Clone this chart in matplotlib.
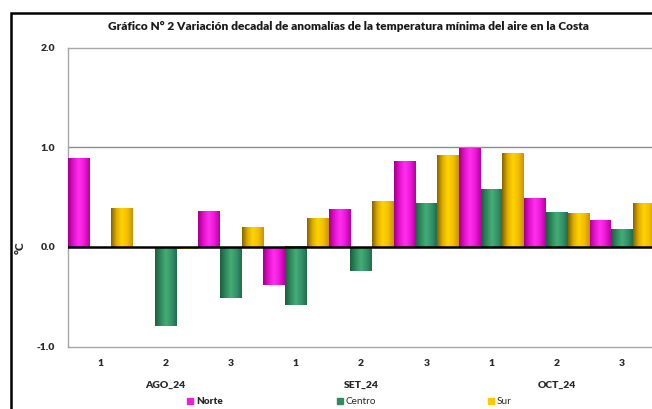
import numpy as np
import matplotlib
matplotlib.use("Agg")
import matplotlib.pyplot as plt
from matplotlib.colors import LinearSegmentedColormap
from matplotlib.lines import Line2D
from matplotlib.patches import Rectangle

# ---- data ----
title = "Gráfico N° 2 Variación decadal de anomalías de la temperatura mínima del aire en la Costa"
dekads = ["1", "2", "3", "1", "2", "3", "1", "2", "3"]
months = ["AGO_24", "SET_24", "OCT_24"]
series_names = ["Norte", "Centro", "Sur"]
norte = [0.89, 0.0, 0.36, -0.38, 0.38, 0.86, 0.99, 0.49, 0.27]
centro = [0.0, -0.79, -0.51, -0.585, -0.24, 0.435, 0.575, 0.35, 0.175]
sur = [0.39, -0.02, 0.20, 0.29, 0.46, 0.92, 0.94, 0.34, 0.435]
yticks = [-1.0, 0.0, 1.0, 2.0]

colors = ["#F21CDC", "#2E8B5E", "#FFC800"]
grads = [
    ["#9E0088", "#E512CF", "#FF30EC", "#EE18D8", "#B8009F"],
    ["#1B5E3E", "#2F8A5C", "#43AD77", "#35936A", "#236E4C"],
    ["#846400", "#E0AE00", "#FFD400", "#F4BE00", "#C89400"],
]

W, H = 652, 409
fig = plt.figure(figsize=(W / 100, H / 100), dpi=100)
fig.patch.set_facecolor("white")

FONT = "Lato"
tc = "#2A2A2A"

# outer frame (cropped chart area)
fig.patches.append(Rectangle((11 / W, -0.05), 2.0, 1 - 13 / H + 0.05,
                             transform=fig.transFigure, fill=False,
                             edgecolor="black", linewidth=1.8, zorder=0))

x0, x1 = 67.8, 654.5
ytop, ybot = 47.5, 346.5
ax = fig.add_axes([x0 / W, (H - ybot) / H, (x1 - x0) / W, (ybot - ytop) / H])
ax.set_facecolor("none")

n = len(dekads)
x = np.arange(n)
bw = 1 / 3
data = [norte, centro, sur]
for k, (vals, col, g) in enumerate(zip(data, colors, grads)):
    bars = ax.bar(x + (k - 1) * bw, vals, width=bw, color=col, zorder=2,
                  label=series_names[k], linewidth=0)
    cmap = LinearSegmentedColormap.from_list(f"g{k}", g)
    grad = np.linspace(0, 1, 64).reshape(1, -1)
    for b in bars:
        bx, by = b.get_x(), b.get_y()
        bwid, bh = b.get_width(), b.get_height()
        if bh == 0:
            continue
        ax.imshow(grad, extent=[bx, bx + bwid, by, by + bh], cmap=cmap,
                  aspect="auto", zorder=3, interpolation="bilinear")

ax.set_xlim(-0.5, n - 0.5)
ax.set_ylim(-1.0, 2.0)

# grid and zero line
ax.axhline(1.0, color="#8C8C8C", lw=1.0, zorder=1)
ax.axhline(0.0, color="black", lw=1.8, zorder=4)

for s in ["left", "top", "bottom"]:
    ax.spines[s].set_color("#A6A6A6")
    ax.spines[s].set_linewidth(1.0)
ax.spines["right"].set_visible(False)

ax.set_yticks(yticks)
ax.set_yticklabels([f"{v:.1f}" for v in yticks], fontsize=7.5, fontweight="heavy",
                   color=tc, family=FONT)
ax.tick_params(axis="y", length=0, pad=9)
ax.set_xticks(x)
ax.set_xticklabels(dekads, fontsize=7.5, fontweight="heavy", color=tc, family=FONT)
ax.tick_params(axis="x", length=0, pad=9)

for i, m in enumerate(months):
    ax.text(3 * i + 1, -(385 - ybot) / (ybot - ytop), m, transform=ax.get_xaxis_transform(),
            ha="center", va="center", fontsize=7.5, fontweight="heavy", color=tc, family=FONT)

fig.text(20 / W, 1 - 248 / H, "°C", rotation=90, ha="center", va="center",
         fontsize=8.5, fontweight="heavy", color=tc, family=FONT)

fig.text(348.5 / W, 1 - 26 / H, title, ha="center", va="center", fontsize=8.6,
         fontweight="heavy", color="#1A1A1A", family=FONT)

# legend (three separate entries)
leg_x = [192, 342, 493]
weights = ["heavy", "normal", "normal"]
for k in range(3):
    h = Line2D([], [], marker="s", ls="none", markersize=4.5, color=colors[k])
    lg = fig.legend([h], [series_names[k]], loc="center left",
                    bbox_to_anchor=((leg_x[k] - 6) / W, 1 - 402 / H), frameon=False,
                    handlelength=0.8, handletextpad=0.2, borderpad=0, borderaxespad=0,
                    prop={"family": FONT, "size": 7.2, "weight": weights[k]})
    for t in lg.get_texts():
        t.set_color(tc)

fig.savefig("out.png", dpi=100)
